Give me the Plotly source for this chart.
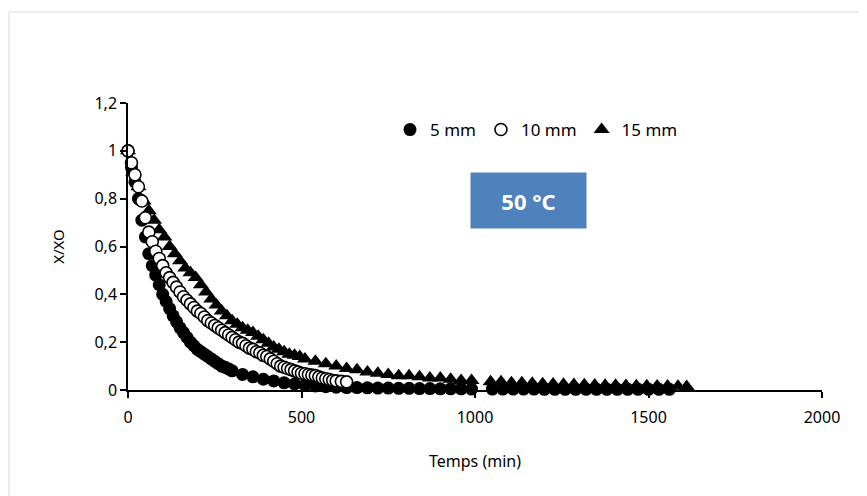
import plotly.graph_objects as go

# ---- data ----
t_5mm = [0, 10, 20, 30, 40, 50, 60, 70, 80, 90, 100, 110, 120, 130, 140, 150, 160, 170, 180, 190,
         200, 210, 220, 230, 240, 250, 260, 270, 280, 290, 300, 330, 360, 390, 420, 450, 480, 510,
         540, 570, 600, 630, 660, 690, 720, 750, 780, 810, 840, 870, 900, 930, 960, 990,
         1050, 1080, 1110, 1140, 1170, 1200, 1230, 1260, 1290, 1320, 1350, 1380, 1410, 1440,
         1470, 1500, 1530, 1560]
x_5mm = [1.00, 0.93, 0.87, 0.80, 0.71, 0.64, 0.57, 0.52, 0.48, 0.44, 0.40, 0.37, 0.34, 0.31, 0.285,
         0.26, 0.24, 0.22, 0.20, 0.185, 0.17, 0.16, 0.15, 0.14, 0.13, 0.12, 0.11, 0.10, 0.095, 0.088,
         0.08, 0.065, 0.055, 0.045, 0.038, 0.03, 0.025, 0.02, 0.017, 0.014, 0.012, 0.01, 0.01, 0.009,
         0.008, 0.008, 0.007, 0.007, 0.006, 0.006, 0.005, 0.005, 0.005, 0.004,
         0.004, 0.004, 0.004, 0.004, 0.004, 0.003, 0.003, 0.003, 0.003, 0.003, 0.003, 0.003, 0.003,
         0.003, 0.003, 0.003, 0.003, 0.003]

t_10mm = [0, 10, 20, 30, 40, 50, 60, 70, 80, 90, 100, 110, 120, 130, 140, 150, 160, 170, 180, 190,
          200, 210, 220, 230, 240, 250, 260, 270, 280, 290, 300, 310, 320, 330, 340, 350, 360, 370,
          380, 390, 400, 410, 420, 430, 440, 450, 460, 470, 480, 490, 500, 510, 520, 530, 540, 550,
          560, 570, 580, 590, 600, 615, 630]
x_10mm = [1.00, 0.95, 0.90, 0.85, 0.79, 0.72, 0.66, 0.62, 0.58, 0.55, 0.52, 0.49, 0.47, 0.45, 0.43,
          0.41, 0.39, 0.375, 0.36, 0.345, 0.33, 0.32, 0.305, 0.29, 0.28, 0.27, 0.26, 0.25, 0.24, 0.23,
          0.22, 0.21, 0.20, 0.195, 0.185, 0.175, 0.17, 0.16, 0.155, 0.145, 0.14, 0.13, 0.12, 0.11,
          0.10, 0.095, 0.09, 0.085, 0.08, 0.075, 0.07, 0.068, 0.065, 0.062, 0.06, 0.055, 0.05, 0.047,
          0.044, 0.04, 0.038, 0.036, 0.034]

t_15mm = [0, 15, 30, 45, 60, 75, 90, 105, 120, 135, 150, 165, 180, 195, 210, 225, 240, 255, 270,
          285, 300, 315, 330, 345, 360, 375, 390, 405, 420, 435, 450, 465, 480, 495, 510, 540, 570,
          600, 630, 660, 690, 720, 750, 780, 810, 840, 870, 900, 930, 960, 990,
          1045, 1075, 1105, 1135, 1165, 1195, 1225, 1255, 1285, 1315, 1345, 1375, 1405, 1435, 1465,
          1495, 1525, 1555, 1585, 1610]
x_15mm = [1.00, 0.91, 0.85, 0.79, 0.75, 0.71, 0.67, 0.64, 0.60, 0.57, 0.54, 0.51, 0.49, 0.47, 0.44,
          0.41, 0.38, 0.355, 0.33, 0.31, 0.29, 0.275, 0.26, 0.25, 0.24, 0.225, 0.21, 0.195, 0.18,
          0.17, 0.16, 0.15, 0.145, 0.14, 0.13, 0.12, 0.11, 0.10, 0.09, 0.085, 0.075, 0.07, 0.065,
          0.06, 0.06, 0.055, 0.05, 0.05, 0.045, 0.04, 0.04,
          0.035, 0.035, 0.03, 0.03, 0.028, 0.026, 0.025, 0.024, 0.023, 0.022, 0.021, 0.02, 0.02,
          0.019, 0.018, 0.018, 0.017, 0.017, 0.016, 0.015]

x_ticks = [0, 500, 1000, 1500, 2000]
y_ticks = [0, 0.2, 0.4, 0.6, 0.8, 1.0, 1.2]
y_tick_labels = ["0", "0,2", "0,4", "0,6", "0,8", "1", "1,2"]

FONT = "Noto Sans"

# page body has an 8px default margin: compensate so the plot area sits at
# x 128..822, y 103..390 in the browser window
W, H = 859, 488
ML, MT, MR = 120, 95, 45
PW = W - ML - MR      # 694
PH = 287
MB = H - MT - PH      # 106


def px2paper_x(px):
    return (px - 8 - ML) / PW


def px2paper_y(py):
    return (MT + PH - (py - 8)) / PH


fig = go.Figure()
fig.add_trace(go.Scatter(x=t_5mm, y=x_5mm, mode="markers", name="5 mm", legendrank=1,
                         cliponaxis=False,
                         marker=dict(symbol="circle", size=13, color="black")))
fig.add_trace(go.Scatter(x=t_15mm, y=x_15mm, mode="markers", name="15 mm", legendrank=3,
                         cliponaxis=False,
                         marker=dict(symbol="triangle-up", size=14, color="black")))
fig.add_trace(go.Scatter(x=t_10mm, y=x_10mm, mode="markers", name="10 mm", legendrank=2,
                         cliponaxis=False,
                         marker=dict(symbol="circle", size=12, color="white",
                                     line=dict(color="black", width=1.6))))

fig.update_layout(
    width=W, height=H,
    margin=dict(l=ML, r=MR, t=MT, b=MB),
    paper_bgcolor="white", plot_bgcolor="white",
    font=dict(family=FONT, size=15, color="black"),
    showlegend=True,
    legend=dict(orientation="h", x=px2paper_x(390), y=px2paper_y(130),
                xanchor="left", yanchor="middle",
                font=dict(family=FONT, size=17), itemwidth=30, bgcolor="rgba(0,0,0,0)",
                tracegroupgap=0),
    xaxis=dict(range=[0, 2000], tickvals=x_ticks, ticktext=[str(v) for v in x_ticks],
               showgrid=False, zeroline=False, showline=True, linecolor="black", linewidth=1.5,
               ticks="outside", tickcolor="black", ticklen=6, tickwidth=1.5,
               ticklabelstandoff=6,
               tickfont=dict(family=FONT, size=16),
               title=dict(text="Temps (min)", font=dict(family=FONT, size=16), standoff=29)),
    yaxis=dict(range=[0, 1.2], tickvals=y_ticks, ticktext=y_tick_labels,
               showgrid=False, zeroline=False, showline=True, linecolor="black", linewidth=1.5,
               ticks="outside", tickcolor="black", ticklen=6, tickwidth=1.5,
               tickfont=dict(family=FONT, size=16),
               title=dict(text="X/XO", font=dict(family=FONT, size=15), standoff=26)),
)

# chart-area border (light gray)
fig.add_shape(type="rect", xref="paper", yref="paper",
              x0=px2paper_x(9), x1=px2paper_x(890),
              y0=px2paper_y(520), y1=px2paper_y(12),
              line=dict(color="#d9d9d9", width=1), fillcolor="rgba(0,0,0,0)", layer="below")

# "50 °C" label box
fig.add_annotation(xref="paper", yref="paper", x=px2paper_x(528.5), y=px2paper_y(200.5),
                   text="<b>50 °C</b>", showarrow=False,
                   font=dict(family=FONT, size=22, color="white"),
                   bgcolor="#4F81BD", width=109, height=49, borderpad=3)

fig.write_html("out.html")
